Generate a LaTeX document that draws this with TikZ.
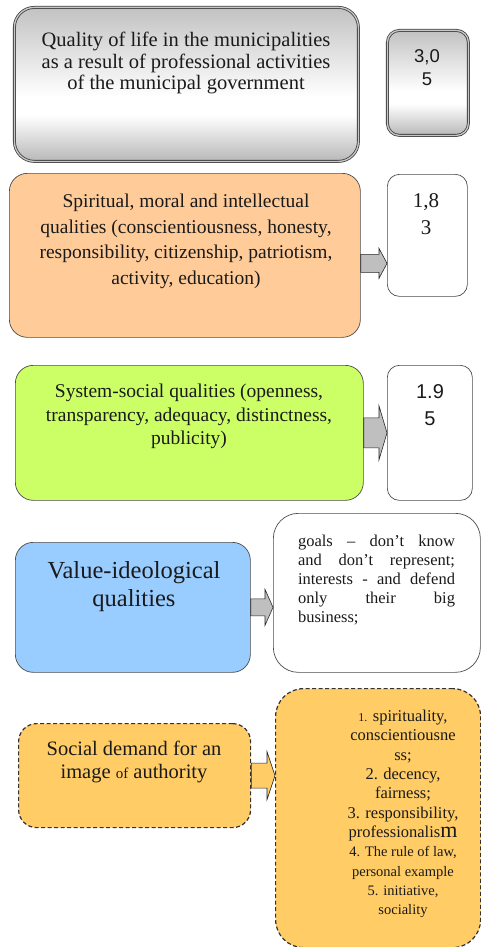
\documentclass[tikz,border=0pt]{standalone}
\usepackage{fontspec}
\setmainfont{Liberation Serif}
\setsansfont{Liberation Sans}
\usetikzlibrary{calc}

\definecolor{ink}{HTML}{1A1A1A}
\definecolor{peach}{HTML}{FFCC99}
\definecolor{lime}{HTML}{CCFF66}
\definecolor{sky}{HTML}{99CCFF}
\definecolor{amber}{HTML}{FFCC66}

\pgfdeclareverticalshading{steel}{100bp}{color(0bp)=(black!28); color(25bp)=(black!28);
  color(40bp)=(white); color(46bp)=(white); color(75bp)=(black!24); color(100bp)=(black!24)}

\tikzset{
  box/.style={draw=black!70, line width=0.7pt, rounded corners=18pt, inner sep=0pt, anchor=north west},
  dbox/.style={box, draw=black!80, dashed, dash pattern=on 4pt off 2.5pt, line width=1.2pt},
  gbox/.style={box, draw=black!75, double=black!22, double distance=1.3pt, line width=0.8pt,
    shading=steel},
  txt/.style={anchor=north, align=center, inner sep=0pt, text=ink},
  blockarrow/.style={draw=black!85, line width=0.6pt}
}

% block arrow: [fill]{from}{to}{dy}{half shaft}{half head}
\newcommand{\blockarr}[6][black!25]{%
  \draw[blockarrow, fill=#1] let \p1=(#2.east), \p2=(#3.west) in
    (\x1,\y1-#4pt+#5pt) -- (\x2-8pt,\y1-#4pt+#5pt) -- (\x2-8pt,\y1-#4pt+#6pt)
    -- (\x2,\y1-#4pt) -- (\x2-8pt,\y1-#4pt-#6pt) -- (\x2-8pt,\y1-#4pt-#5pt)
    -- (\x1,\y1-#4pt-#5pt) -- cycle;}

\begin{document}
\begin{tikzpicture}[x=1pt, y=-1pt]
  \useasboundingbox (0,0) rectangle (481,947);

  % quality of life
  \node[gbox, rounded corners=20pt, minimum width=344pt, minimum height=154pt] (life) at (14,7) {};
  \node[txt, font=\fontsize{20.5}{21.5}\selectfont] (lifetxt) at (186,32)
    {Quality of life in the municipalities\\as a result of professional activities\\of the municipal government};
  \node[gbox, rounded corners=12pt, minimum width=81pt, minimum height=105pt] (lifeval) at (387,30) {};
  \node[txt, font=\sffamily\fontsize{18.5}{23}\selectfont] (lifevaltxt) at (427,49) {3,0\\5};

  % spiritual qualities
  \node[box, fill=peach, minimum width=351pt, minimum height=164pt] (spirit) at (9,173) {};
  \node[txt, font=\fontsize{19.5}{25.5}\selectfont] (spirittxt) at (186,194)
    {Spiritual, moral and intellectual\\qualities (conscientiousness, honesty,\\responsibility, citizenship, patriotism,\\activity, education)};
  \node[box, fill=white, rounded corners=12pt, minimum width=80pt, minimum height=122pt] (spiritval) at (387,174) {};
  \node[txt, font=\fontsize{21}{27}\selectfont] (spiritvaltxt) at (426,193) {1,8\\3};
  \blockarr{spirit}{spiritval}{8}{9}{15}

  % system-social qualities
  \node[box, fill=lime, minimum width=348pt, minimum height=135pt] (system) at (15,365) {};
  \node[txt, font=\fontsize{19.5}{23.5}\selectfont] (systemtxt) at (189,384)
    {System-social qualities (openness,\\transparency, adequacy, distinctness,\\publicity)};
  \node[box, fill=white, rounded corners=12pt, minimum width=85pt, minimum height=135pt] (systemval) at (387,365) {};
  \node[txt, font=\sffamily\fontsize{20}{27}\selectfont] (systemvaltxt) at (430,384) {1.9\\5};
  \blockarr{system}{systemval}{0}{15}{27}

  % value-ideological qualities
  \node[box, fill=sky, minimum width=235pt, minimum height=130pt] (value) at (15,542) {};
  \node[txt, font=\fontsize{24.5}{28.5}\selectfont] (valuetxt) at (134,561)
    {Value-ideological\\qualities};
  \node[box, fill=white, rounded corners=25pt, minimum width=207pt, minimum height=159pt] (goals) at (273,513) {};
  \node[txt, align=justify, text width=157pt, font=\fontsize{16.5}{19}\selectfont] (goalstxt) at (376.5,535)
    {goals -- don’t know\linebreak and don’t represent;\linebreak interests - and defend\linebreak only their big\linebreak business;};
  \blockarr{value}{goals}{0}{8.5}{18}

  % social demand
  \node[dbox, fill=amber, minimum width=232pt, minimum height=104pt] (demand) at (18,723) {};
  \node[txt, font=\fontsize{20.5}{23}\selectfont] (demandtxt) at (134,741)
    {Social demand for an\\image {\fontsize{15}{23}\selectfont of} authority};
  \node[dbox, fill=amber, rounded corners=28pt, minimum width=205pt, minimum height=259pt] (image) at (275,688) {};
  \node[txt, font=\fontsize{16.5}{19.3}\selectfont] (imagetxt) at (403,710)
    {{\fontsize{12}{19.3}\selectfont 1.} spirituality,\\conscientiousne\\ss;\\2. decency,\\fairness;\\3. responsibility,\\
     professionalis{\fontsize{22}{19.3}\selectfont m}\\
     {\fontsize{14.5}{19.3}\selectfont 4. The rule of law,}\\
     {\fontsize{14.5}{19.3}\selectfont personal example}\\
     {\fontsize{14.5}{19.3}\selectfont 5. initiative,}\\
     {\fontsize{14.5}{19.3}\selectfont sociality}};
  \blockarr[amber]{demand}{image}{0}{12.5}{24}
\end{tikzpicture}
\end{document}
